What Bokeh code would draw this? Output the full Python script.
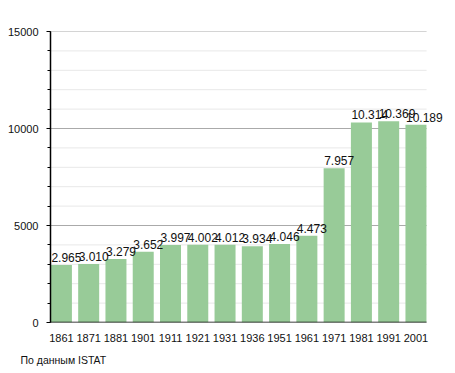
from bokeh.plotting import figure
from bokeh.models import Range1d, FixedTicker, ColumnDataSource, Title
from bokeh.core.properties import value
from bokeh.embed import file_html
from bokeh.resources import INLINE

years = ["1861", "1871", "1881", "1901", "1911", "1921", "1931", "1936",
         "1951", "1961", "1971", "1981", "1991", "2001"]
population = [2965, 3010, 3279, 3652, 3997, 4002, 4012, 3934,
              4046, 4473, 7957, 10314, 10369, 10189]
value_labels = [f"{v:,}".replace(",", ".") for v in population]
y_ticks = [0, 5000, 10000, 15000]
y_minor = [v for v in range(0, 15001, 1000) if v % 5000 != 0]
footnote = "По данным  ISTAT"

idx = list(range(len(years)))
src = ColumnDataSource(dict(x=idx, top=population, lab=value_labels))

FONT = "Liberation Sans"

# plotting region in x (bars area); frame extends a bit further so the last label is not clipped
x_lo, x_hi = -0.4, len(years) - 1 + 0.39

p = figure(width=448, height=373, output_backend="svg", toolbar_location=None,
           x_range=Range1d(x_lo, x_hi + 0.73), y_range=Range1d(0, 15000),
           min_border_left=50, min_border_right=2, min_border_top=31,
           min_border_bottom=50)
p.outline_line_color = None
p.background_fill_color = "white"
p.xgrid.grid_line_color = None
p.ygrid.grid_line_color = None

# grid lines over the bar area only
p.segment(x0=[x_lo] * len(y_minor), x1=[x_hi] * len(y_minor), y0=y_minor, y1=y_minor,
          line_color="#e8e8e8", line_width=1)
p.segment(x0=[x_lo] * 3, x1=[x_hi] * 3, y0=y_ticks[1:], y1=y_ticks[1:],
          line_color="#aaaaaa", line_width=1)

p.vbar(x="x", top="top", width=0.77, bottom=0, source=src,
       fill_color="#98cb98", line_color=None)
# value labels start at the left edge of each bar
p.text(x="x", y="top", text="lab", source=src, text_align="left",
       text_baseline="bottom", x_offset=-10, y_offset=-3, text_font_size="12px",
       text_color="#111111", text_font=value(FONT))

# x axis line over the bar area only
p.segment(x0=[x_lo], x1=[x_hi], y0=[0], y1=[0], line_color="black", line_width=1.5)

# x axis
p.xaxis.ticker = FixedTicker(ticks=idx)
p.xaxis.major_label_overrides = {i: y for i, y in enumerate(years)}
p.xaxis.major_tick_line_color = None
p.xaxis.minor_tick_line_color = None
p.xaxis.axis_line_color = None
p.xaxis.major_label_text_font = FONT
p.xaxis.major_label_text_font_size = "11px"
p.xaxis.major_label_text_color = "#111111"
p.xaxis.major_label_standoff = 5

# y axis
p.yaxis.ticker = FixedTicker(ticks=y_ticks, minor_ticks=list(range(0, 15001, 1000)))
p.yaxis.axis_line_color = "black"
p.yaxis.axis_line_width = 1.5
p.yaxis.major_tick_out = 4
p.yaxis.major_tick_in = 0
p.yaxis.minor_tick_out = 3
p.yaxis.minor_tick_in = 0
p.yaxis.major_label_text_font = FONT
p.yaxis.major_label_text_font_size = "11px"
p.yaxis.major_label_text_color = "#111111"
p.yaxis.major_label_standoff = 8

p.add_layout(Title(text=footnote, align="left", offset=-30, standoff=15,
                   text_font=FONT, text_font_size="10.5px", text_font_style="normal",
                   text_color="#111111"), "below")

open("out.html", "w").write(file_html(p, INLINE))
